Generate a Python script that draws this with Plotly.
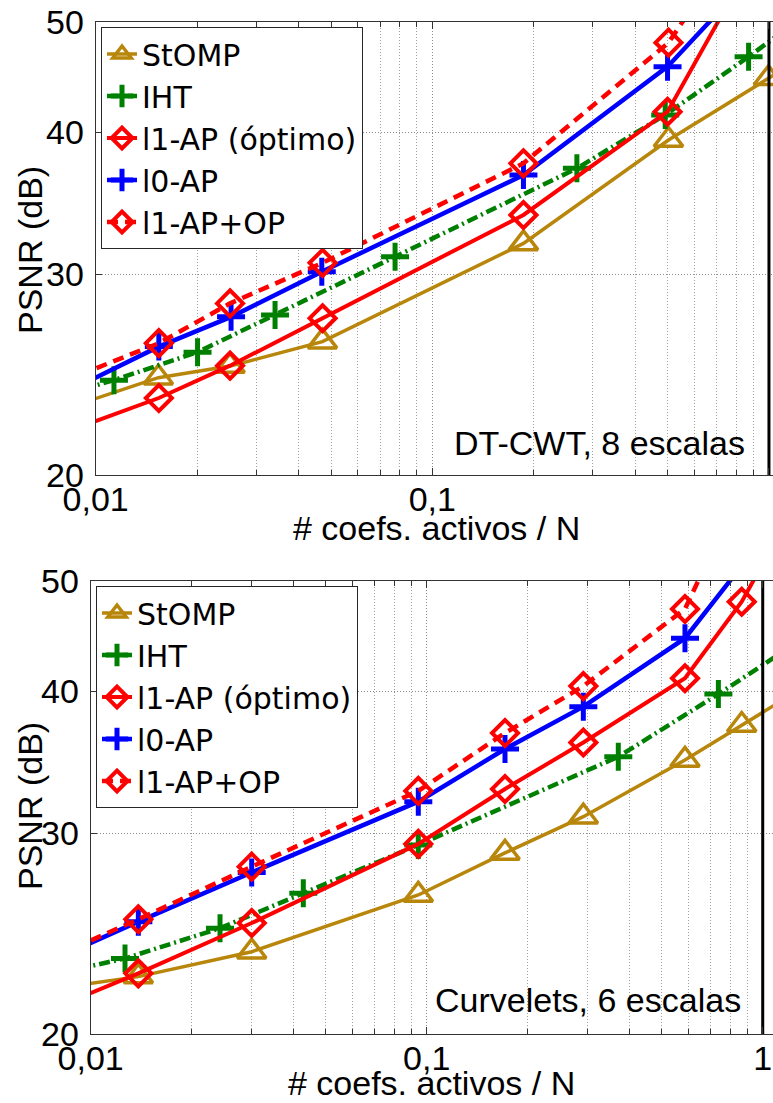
import math
import plotly.graph_objects as go

FONT = "Liberation Sans, Arial, sans-serif"
LEG_FONT = "DejaVu Sans, Liberation Sans, sans-serif"

# ---------------- data: top panel (DT-CWT, 8 escalas) ----------------
top_stomp_x = [0.008, 0.01535, 0.02507, 0.04714, 0.1865, 0.503, 0.997, 1.2]
top_stomp_y = [22.84, 24.35, 24.93, 26.19, 31.95, 39.38, 44.62, 46.15]
top_iht_x = [0.008, 0.01133, 0.02007, 0.0341, 0.0775, 0.2688, 0.4918, 0.8699, 1.2]
top_iht_y = [23.52, 24.23, 25.64, 27.64, 31.10, 37.19, 41.43, 46.61, 50.0]
top_l1_x = [0.008, 0.0154, 0.02507, 0.0472, 0.1865, 0.4997, 1.0]
top_l1_y = [21.77, 23.37, 24.95, 27.46, 33.84, 41.70, 60.1]
top_l0_x = [0.008, 0.0154, 0.02524, 0.04695, 0.1865, 0.4997, 1.0]
top_l0_y = [23.57, 25.93, 27.54, 30.17, 36.69, 45.68, 56.9]
top_op_x = [0.008, 0.0154, 0.02507, 0.0472, 0.1865, 0.503, 1.0]
top_op_y = [24.17, 26.11, 28.30, 30.72, 37.57, 47.95, 64.9]

# ---------------- data: bottom panel (Curvelets, 6 escalas) ----------------
bot_stomp_x = [0.008, 0.01386, 0.03014, 0.0944, 0.171, 0.2925, 0.587, 0.866, 1.2]
bot_stomp_y = [21.95, 22.46, 23.62, 26.49, 28.84, 31.03, 34.80, 37.35, 39.6]
bot_iht_x = [0.008, 0.01265, 0.02426, 0.04293, 0.0944, 0.3717, 0.738, 1.2]
bot_iht_y = [22.61, 23.30, 24.77, 26.58, 29.31, 35.03, 39.76, 43.68]
bot_l1_x = [0.008, 0.01386, 0.03014, 0.0944, 0.171, 0.2925, 0.587, 0.866, 1.2]
bot_l1_y = [21.14, 22.61, 25.03, 29.37, 32.82, 36.05, 41.05, 47.92, 57.0]
bot_l0_x = [0.008, 0.01386, 0.03014, 0.0944, 0.171, 0.2925, 0.587, 1.0]
bot_l0_y = [23.34, 25.10, 27.72, 31.99, 35.58, 38.76, 44.51, 54.4]
bot_op_x = [0.008, 0.01386, 0.03014, 0.0944, 0.171, 0.2925, 0.587, 1.0]
bot_op_y = [23.46, 25.22, 28.05, 32.69, 36.75, 40.41, 47.22, 65.9]

series_names = ["StOMP", "IHT", "l1-AP (óptimo)", "l0-AP", "l1-AP+OP"]
x_tick_vals = [0.01, 0.1, 1]
x_tick_text = ["0,01", "0,1", "1"]
x_minor_vals = [0.02, 0.03, 0.04, 0.05, 0.06, 0.07, 0.08, 0.09,
                0.2, 0.3, 0.4, 0.5, 0.6, 0.7, 0.8, 0.9]
y_tick_vals = [20, 30, 40, 50]
y_limits = [20, 50]
x_limit_ref = [1, 1]
panel_labels = ["DT-CWT, 8 escalas", "Curvelets, 6 escalas"]
x_title = "# coefs. activos / N"
y_title = "PSNR (dB)"

GOLD = "rgb(184,134,11)"
GREEN = "rgb(0,128,0)"
RED = "rgb(255,0,0)"
BLUE = "rgb(0,0,255)"

styles = [
    dict(line=dict(color=GOLD, width=3.5, dash="solid"),
         marker=dict(symbol="triangle-up-open", size=25, color=GOLD, line=dict(width=3.5, color=GOLD))),
    dict(line=dict(color=GREEN, width=4.5, dash="11px,4px,2px,4px"),
         marker=dict(symbol="cross-thin-open", size=20, color=GREEN, line=dict(width=5, color=GREEN))),
    dict(line=dict(color=RED, width=4, dash="solid"),
         marker=dict(symbol="diamond-open", size=20, color=RED, line=dict(width=4, color=RED))),
    dict(line=dict(color=BLUE, width=4.5, dash="solid"),
         marker=dict(symbol="cross-thin-open", size=20, color=BLUE, line=dict(width=5, color=BLUE))),
    dict(line=dict(color=RED, width=4.5, dash="11px,7px"),
         marker=dict(symbol="diamond-open", size=20, color=RED, line=dict(width=4, color=RED))),
]

fig = go.Figure()

panels = [
    ("x", "y", "legend",
     [(top_stomp_x, top_stomp_y), (top_iht_x, top_iht_y), (top_l1_x, top_l1_y),
      (top_l0_x, top_l0_y), (top_op_x, top_op_y)]),
    ("x2", "y2", "legend2",
     [(bot_stomp_x, bot_stomp_y), (bot_iht_x, bot_iht_y), (bot_l1_x, bot_l1_y),
      (bot_l0_x, bot_l0_y), (bot_op_x, bot_op_y)]),
]

for xa, ya, lg, data in panels:
    for name, (xs, ys), st in zip(series_names, data, styles):
        fig.add_trace(go.Scatter(x=xs, y=ys, name=name, mode="lines+markers",
                                 line=st["line"], marker=st["marker"],
                                 xaxis=xa, yaxis=ya, legend=lg, cliponaxis=True))
    # vertical reference line at x = 1
    fig.add_trace(go.Scatter(x=x_limit_ref, y=y_limits, mode="lines",
                             line=dict(color="black", width=3), showlegend=False,
                             xaxis=xa, yaxis=ya, hoverinfo="skip"))

W, H = 773, 1103
TXT = 34

def xaxis_cfg(domain, right_val, anchor):
    return dict(
        type="log", domain=domain, range=[-2, math.log10(right_val)], anchor=anchor,
        tickvals=x_tick_vals, ticktext=x_tick_text,
        ticks="inside", ticklen=7, tickwidth=1, tickcolor="#333",
        showline=True, linecolor="#333", linewidth=1, mirror="allticks",
        showgrid=True, gridcolor="#8c8c8c", griddash="1px,2px", gridwidth=1,
        zeroline=False, tickfont=dict(size=TXT, color="black", family=FONT),
        ticklabelstandoff=-6, automargin=False,
        minor=dict(tickvals=x_minor_vals, ticks="inside", ticklen=5, tickcolor="#333",
                   showgrid=True, gridcolor="#a0a0a0", griddash="1px,2px", gridwidth=1),
    )

def yaxis_cfg(domain, anchor):
    return dict(
        type="log", domain=domain, range=[math.log10(y_limits[0]), math.log10(y_limits[1])],
        tickvals=y_tick_vals, ticktext=[str(v) for v in y_tick_vals],
        ticks="inside", ticklen=6, tickwidth=1, tickcolor="#333",
        showline=True, linecolor="#333", linewidth=1, mirror=False,
        showgrid=True, gridcolor="#8c8c8c", griddash="1px,2px", gridwidth=1,
        zeroline=False, tickfont=dict(size=TXT, color="black", family=FONT),
        anchor=anchor, ticklabelstandoff=4, automargin=False,
    )

top_xdom = [95.7 / W, 1]
top_ydom = [1 - 475 / H, 1 - 22 / H]
bot_xdom = [90.7 / W, 1]
bot_ydom = [1 - 1034 / H, 1 - 580.7 / H]

legend_common = dict(xanchor="left", yanchor="top", bgcolor="white",
                     bordercolor="#262626", borderwidth=1,
                     font=dict(size=30, family=LEG_FONT, color="black"),
                     itemwidth=30, tracegroupgap=0)

def ann(text, x, y, xanchor="center", angle=0):
    return dict(text=text, x=x / W, y=1 - y / H, xref="paper", yref="paper",
                xanchor=xanchor, yanchor="middle", showarrow=False, textangle=angle,
                font=dict(size=TXT, family=FONT, color="black"))

annotations = [
    ann(panel_labels[0], 747, 443, "right"),
    ann(panel_labels[1], 743, 1000, "right"),
    ann(x_title, 436, 528),
    ann(x_title, 431.5, 1083),
    ann(y_title, 30, 250, angle=-90),
    ann(y_title, 30, 806, angle=-90),
]

fig.update_layout(
    width=W, height=H, margin=dict(l=0, r=0, t=0, b=0, autoexpand=False),
    paper_bgcolor="white", plot_bgcolor="white",
    font=dict(family=FONT, color="black"),
    xaxis=xaxis_cfg(top_xdom, 1.028, "y"), yaxis=yaxis_cfg(top_ydom, "x"),
    xaxis2=xaxis_cfg(bot_xdom, 1.073, "y2"), yaxis2=yaxis_cfg(bot_ydom, "x2"),
    legend=dict(x=101 / W, y=1 - 27 / H, **legend_common),
    legend2=dict(x=96 / W, y=1 - 586 / H, **legend_common),
    annotations=annotations,
    showlegend=True,
)

fig.write_html("out.html")
